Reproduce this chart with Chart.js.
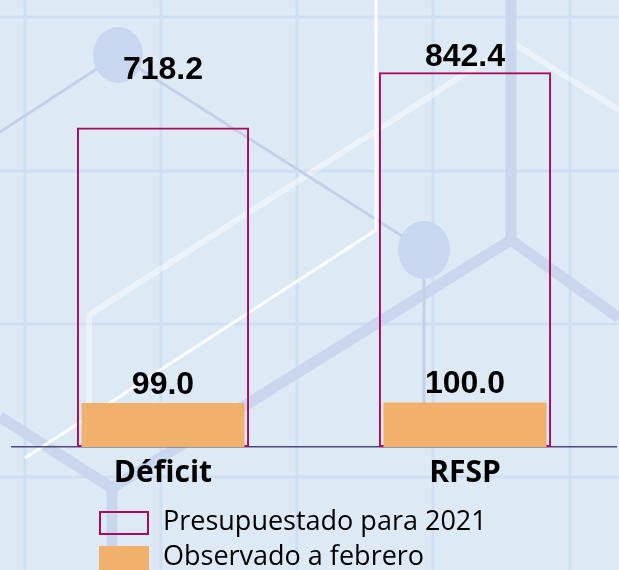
<!DOCTYPE html>
<html>
<head>
<meta charset="utf-8">
<script src="https://cdn.jsdelivr.net/npm/chart.js@4.4.1/dist/chart.umd.min.js"></script>
<style>
  html, body { margin: 0; padding: 0; background: #dee9f6; }
  #wrap { width: 619px; height: 570px; position: relative; }
</style>
</head>
<body>
<div id="wrap"><canvas id="chart_deficitRfsp"></canvas></div>
<script>
// datos
var categorias = ['Déficit', 'RFSP'];
var presupuestado = [718.2, 842.4];
var observado = [99.0, 100.0];
var nombresSeries = ['Presupuestado para 2021', 'Observado a febrero'];

// how far above the bar top each value label sits (px)
var alturaEtiquetas = [[57, 15], [18, 18]];

var fondoPlugin = {
    id: 'fondo',
    beforeDraw: (chart) => {
        const ctx = chart.ctx;
        const w = chart.width, h = chart.height;
        ctx.save();
        ctx.fillStyle = '#dee9f6';
        ctx.fillRect(0, 0, w, h);
        // light grid
        ctx.strokeStyle = '#cfdff3';
        ctx.lineWidth = 3;
        [25, 161, 297, 433, 570].forEach(x => {
            ctx.beginPath(); ctx.moveTo(x, 0); ctx.lineTo(x, h); ctx.stroke();
        });
        [17, 171, 324, 477].forEach(y => {
            ctx.beginPath(); ctx.moveTo(0, y); ctx.lineTo(w, y); ctx.stroke();
        });
        const line = (pts, color, width) => {
            ctx.strokeStyle = color;
            ctx.lineWidth = width;
            ctx.lineJoin = 'miter';
            ctx.beginPath();
            ctx.moveTo(pts[0][0], pts[0][1]);
            for (let i = 1; i < pts.length; i++) ctx.lineTo(pts[i][0], pts[i][1]);
            ctx.stroke();
        };
        // faint white hexagon
        line([[89, 445], [89, 315], [513, 43], [619, 110]], 'rgba(255,255,255,0.4)', 6);
        // thick blue network
        line([[511, 0], [511, 240], [112, 488], [112, 570]], '#c9d6ee', 11);
        line([[511, 240], [619, 318]], '#c9d6ee', 11);
        line([[0, 417], [112, 488]], '#c9d6ee', 11);
        // thin blue lines and nodes
        line([[0, 132], [118, 55], [424, 250], [424, 445]], '#c3d0ea', 3);
        ctx.fillStyle = '#c8d6ef';
        ctx.beginPath(); ctx.ellipse(118, 55, 25, 28, 0, 0, Math.PI * 2); ctx.fill();
        ctx.beginPath(); ctx.ellipse(424, 250, 26, 29, 0, 0, Math.PI * 2); ctx.fill();
        // bright white line
        line([[376, 0], [376, 230], [25, 458]], 'rgba(255,255,255,0.95)', 3);
        ctx.restore();
    }
};

var etiquetasPlugin = {
    id: 'etiquetas',
    afterDatasetsDraw: (chart) => {
        const ctx = chart.ctx;
        ctx.save();
        ctx.fillStyle = '#000';
        ctx.font = 'bold 32px "Liberation Sans", Arial, sans-serif';
        ctx.textAlign = 'center';
        ctx.textBaseline = 'middle';
        chart.data.datasets.forEach((ds, i) => {
            chart.getDatasetMeta(i).data.forEach((bar, j) => {
                ctx.fillText(ds.data[j].toFixed(1), bar.x, bar.y - alturaEtiquetas[i][j]);
            });
        });
        ctx.restore();
    }
};

var leyendaPlugin = {
    id: 'leyenda',
    afterDraw: (chart) => {
        const ctx = chart.ctx;
        ctx.save();
        ctx.font = '27px "Open Sans", sans-serif';
        ctx.textBaseline = 'middle';
        ctx.textAlign = 'left';
        chart.data.datasets.forEach((ds, i) => {
            const top = 511 + i * 35;
            if (ds.borderWidth > 0) {
                ctx.strokeStyle = ds.borderColor;
                ctx.lineWidth = 2;
                ctx.strokeRect(100, top + 1, 48, 22);
            } else {
                ctx.fillStyle = ds.backgroundColor;
                ctx.fillRect(99, top, 50, 24);
            }
            ctx.fillStyle = '#000';
            ctx.fillText(ds.label, 163, top + 11);
        });
        ctx.restore();
    }
};

var chart_deficitRfsp = new Chart(document.getElementById('chart_deficitRfsp'), {
    type: 'bar',
    data: {
        labels: categorias,
        datasets: [
            {
                label: nombresSeries[0],
                data: presupuestado,
                backgroundColor: 'rgba(0,0,0,0)',
                borderColor: '#a80c5e',
                borderWidth: 2,
                borderSkipped: false,
                grouped: false,
                categoryPercentage: 1,
                barPercentage: 0.57,
                order: 2
            },
            {
                label: nombresSeries[1],
                data: observado,
                backgroundColor: '#f1b06b',
                borderWidth: 0,
                grouped: false,
                categoryPercentage: 1,
                barPercentage: 0.54,
                order: 1
            }
        ]
    },
    options: {
        animation: false,
        responsive: true,
        maintainAspectRatio: false,
        layout: {
            padding: { left: 12, right: 3, top: 2, bottom: 71 }
        },
        plugins: {
            legend: { display: false },
            tooltip: { enabled: false }
        },
        scales: {
            x: {
                grid: { display: false, drawTicks: false },
                border: { display: true, color: '#4b4a7c', width: 1.5 },
                ticks: {
                    color: '#000',
                    padding: 8,
                    font: { family: '"Open Sans", sans-serif', weight: 'bold', size: 30 }
                }
            },
            y: {
                display: false,
                min: 0,
                max: 1000
            }
        }
    },
    plugins: [fondoPlugin, etiquetasPlugin, leyendaPlugin]
});
</script>
</body>
</html>
